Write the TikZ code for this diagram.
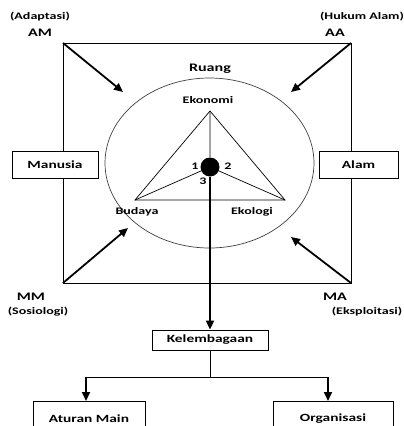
\documentclass[tikz,border=0pt]{standalone}
\usepackage{fontspec}
\setmainfont{Carlito}[FakeStretch=1.4]
\usetikzlibrary{arrows.meta}
\begin{document}
\begin{tikzpicture}[x=1pt,y=-1pt,
  txt/.style={font=\bfseries\fontsize{10}{12}\selectfont, inner sep=0pt},
  bigtxt/.style={font=\bfseries\fontsize{11.5}{13}\selectfont, inner sep=0pt},
  box/.style={draw, fill=white, line width=0.8pt, inner sep=0pt, font=\bfseries\fontsize{11}{13}\selectfont},
  thin/.style={line width=0.8pt},
  arr/.style={line width=1.8pt, -{Triangle[length=9pt,width=8pt]}},
]
\useasboundingbox (0,0) rectangle (404,426);
\clip (0,0) rectangle (404,426);
% square corners
\coordinate (tl) at (63,43);
\coordinate (tr) at (351,43);
\coordinate (br) at (351,283);
\coordinate (bl) at (63,283);
\draw[thin] (tl) -- (tr) -- (br) -- (bl) -- cycle;
% ellipse
\draw[line width=0.7pt, black!75] (209.5,163) ellipse (104.5 and 85);
% triangle
\coordinate (apex) at (210,111);
\coordinate (vl) at (135,200);
\coordinate (vr) at (285,200);
\draw[line width=0.7pt] (apex) -- (vl) -- (vr) -- cycle;
\node[circle, fill=black, minimum size=19pt, inner sep=0pt] (dot) at (210,167) {};
\draw[line width=0.7pt] (apex) -- (dot) (vl) -- (dot) (vr) -- (dot);
% side boxes
\node[box, minimum width=86pt, minimum height=27pt] (man) at (55,164.5) {Manusia};
\node[box, minimum width=79pt, minimum height=27pt] (alam) at (358.5,164.5) {Alam};
% corner arrow targets
\coordinate (tAM) at (123,92);
\coordinate (tAA) at (291,92);
\coordinate (tMM) at (128,228);
\coordinate (tMA) at (291,237);
\draw[arr] (tl) -- (tAM);
\draw[arr] (tr) -- (tAA);
\draw[arr] (bl) -- (tMM);
\draw[arr] (br) -- (tMA);
% labels
\node[txt] (adap) at (40,17) {(Adaptasi)};
\node[bigtxt] (am) at (40,33) {AM};
\node[txt] (huk) at (362,17) {(Hukum Alam)};
\node[bigtxt] (aa) at (335,33) {AA};
\node[bigtxt] (mm) at (31,297) {MM};
\node[txt] (sos) at (38,312) {(Sosiologi)};
\node[bigtxt] (ma) at (335,297) {MA};
\node[txt] (eks) at (367,312) {(Eksploitasi)};
\node[bigtxt] (ruang) at (210,69) {Ruang};
\node[txt] (eko) at (208,100) {Ekonomi};
\node[txt] (bud) at (137,212) {Budaya};
\node[txt] (ekl) at (252,212) {Ekologi};
\node[txt] (n1) at (195,166) {1};
\node[txt] (n2) at (228,166) {2};
\node[txt] (n3) at (203,181) {3};
% lower part
\node[box, minimum width=116pt, minimum height=20pt] (kel) at (210,340) {Kelembagaan};
\draw[arr] (dot) -- (kel.north);
\node[box, minimum width=112pt, minimum height=34pt, anchor=north] (atur) at (89,401) {\raisebox{-6pt}{Aturan Main}};
\node[box, minimum width=120pt, minimum height=34pt, anchor=north] (org) at (333,401) {\raisebox{-6pt}{Organisasi}};
\coordinate (split) at (210,377);
\coordinate (sl) at (86,377);
\coordinate (sr) at (328,377);
\draw[thin] (kel.south) -- (split);
\draw[thin] (sl) -- (sr);
\draw[arr] (sl) -- (sl |- atur.north);
\draw[arr] (sr) -- (sr |- org.north);
\end{tikzpicture}
\end{document}
